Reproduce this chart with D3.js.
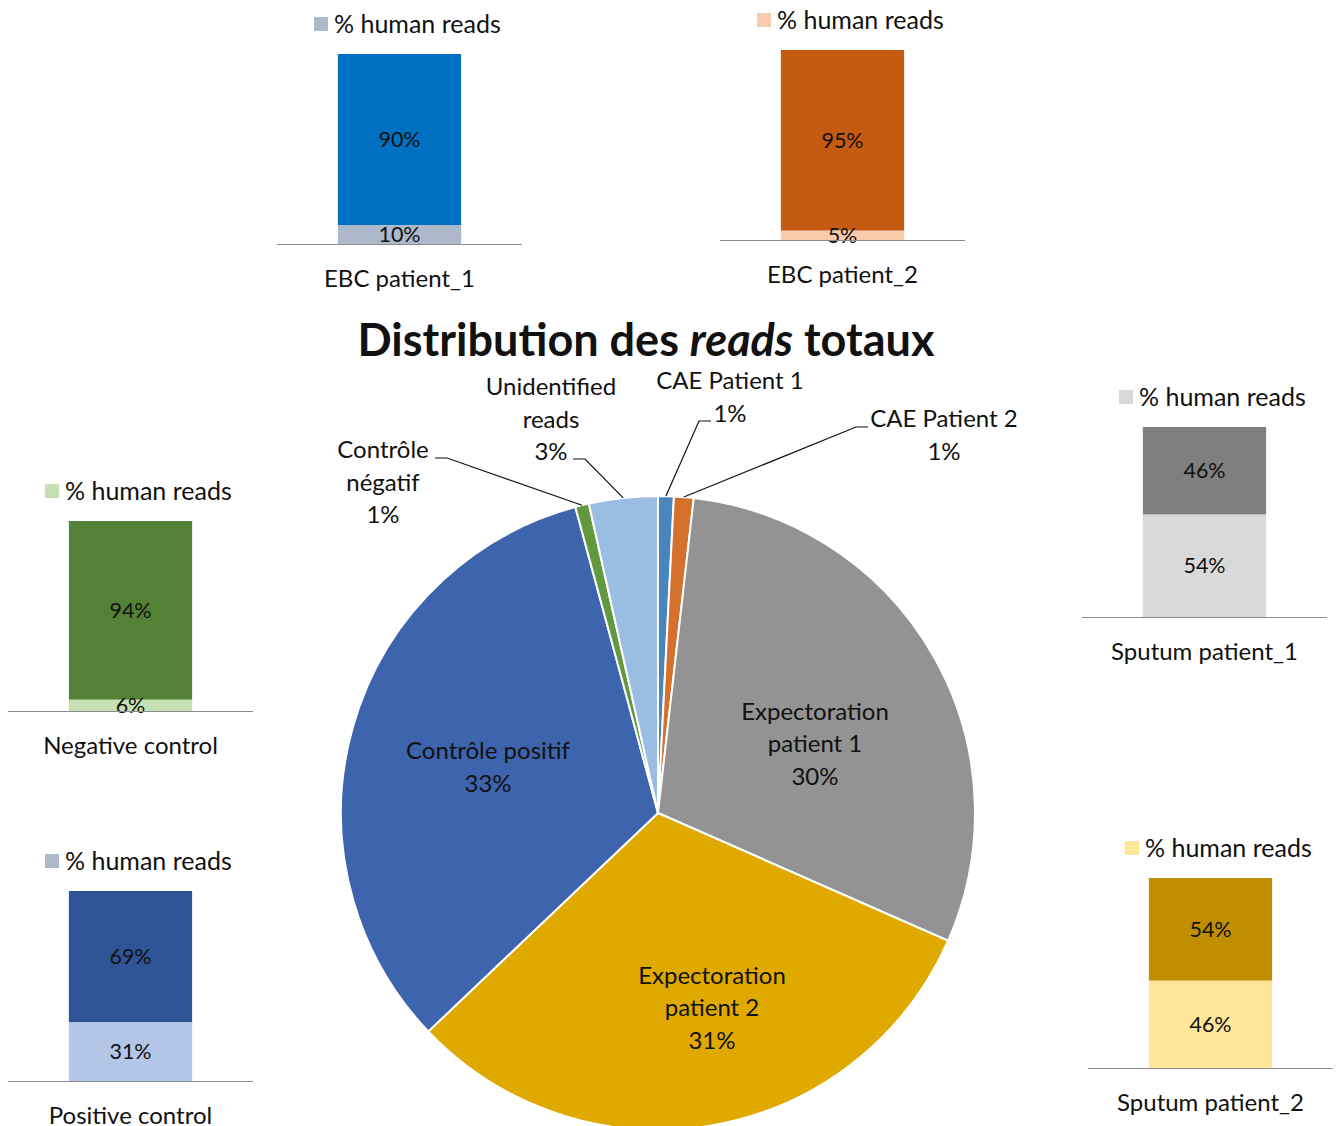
<!DOCTYPE html>
<html>
<head>
<meta charset="utf-8">
<script src="https://cdn.jsdelivr.net/npm/d3@7"></script>
<style>
  body { margin: 0; background: #fff; }
  svg text { font-family: Lato, "Open Sans", sans-serif; fill: #111; }
</style>
</head>
<body>
<div id="chart"></div>
<script>
// pie data (share of total reads)
var pieLabels = ["CAE Patient 1", "CAE Patient 2", "Expectoration patient 1", "Expectoration patient 2",
                 "Contrôle positif", "Contrôle négatif", "Unidentified reads"];
var pieValues = [0.8, 1.0, 29.8, 31.3, 32.9, 0.7, 3.5];
var pieColors = ["#4a86be", "#d5712c", "#939393", "#e0a900", "#3d64ad", "#62993e", "#9cbde2"];

// small stacked bars (% human reads vs rest)
var barNames = ["EBC patient_1", "EBC patient_2", "Negative control", "Positive control", "Sputum patient_1", "Sputum patient_2"];
var humanPct = [10, 5, 6, 31, 54, 46];
var otherPct = [90, 95, 94, 69, 46, 54];
var darkColors = ["#0070c0", "#c55a11", "#538135", "#2f5496", "#7f7f7f", "#bf8f00"];
var lightColors = ["#adb9ca", "#f8cbad", "#c5e0b3", "#b4c6e7", "#d9d9d9", "#ffe699"];
var legendColors = ["#adb9ca", "#f8cbad", "#c5e0b3", "#adb9ca", "#d9d9d9", "#ffe699"];

var W = 1338, H = 1126;
var svg = d3.select("#chart").append("svg").attr("width", W).attr("height", H);

// ---- bars ----
var panels = [ {x: 277, base: 244}, {x: 720, base: 240}, {x: 8, base: 711},
               {x: 8, base: 1081}, {x: 1082, base: 617}, {x: 1088, base: 1068} ];
var barH = 190, barW = 124, axisW = 245;

barNames.forEach(function(name, i) {
  var p = panels[i];
  var g = svg.append("g").attr("transform", "translate(" + p.x + "," + p.base + ")");
  var y = d3.scaleLinear().domain([0, 100]).range([0, -barH]);
  var x = d3.scaleBand().domain([name]).range([0, axisW]).paddingInner(0).paddingOuter((axisW - barW) / axisW);

  var segs = [
    {v0: 0, v1: humanPct[i], c: lightColors[i], t: humanPct[i] + "%"},
    {v0: humanPct[i], v1: humanPct[i] + otherPct[i], c: darkColors[i], t: otherPct[i] + "%"}
  ];
  g.selectAll("rect").data(segs).enter().append("rect")
    .attr("x", x(name)).attr("width", x.bandwidth())
    .attr("y", function(d) { return y(d.v1); })
    .attr("height", function(d) { return y(d.v0) - y(d.v1); })
    .attr("fill", function(d) { return d.c; });

  g.selectAll("text.val").data(segs).enter().append("text")
    .attr("class", "val")
    .attr("x", x(name) + x.bandwidth() / 2)
    .attr("y", function(d) { return (y(d.v0) + y(d.v1)) / 2; })
    .attr("dy", "0.35em")
    .attr("text-anchor", "middle")
    .style("font-size", "21.5px")
    .text(function(d) { return d.t; });

  g.append("line").attr("x1", 0).attr("x2", axisW).attr("y1", 0.5).attr("y2", 0.5)
    .attr("stroke", "#8c8c8c").attr("stroke-width", 1.2);

  g.append("text").attr("x", axisW / 2).attr("y", 35).attr("dy", "0.35em")
    .attr("text-anchor", "middle").style("font-size", "24px").text(name);

  // legend
  var ly = -barH - 30;
  g.append("rect").attr("x", 37).attr("y", ly - 7).attr("width", 14).attr("height", 14)
    .attr("fill", legendColors[i]);
  g.append("text").attr("x", 57).attr("y", ly).attr("dy", "0.35em")
    .style("font-size", "25px").text("% human reads");
});

// ---- title ----
var title = svg.append("text").attr("x", 646).attr("y", 340).attr("dy", "0.35em")
  .attr("text-anchor", "middle").style("font-size", "45px").style("font-weight", "bold");
title.append("tspan").text("Distribution des ");
title.append("tspan").style("font-style", "italic").text("reads");
title.append("tspan").text(" totaux");

// ---- pie ----
var cx = 658, cy = 813, R = 317;
var total = d3.sum(pieValues);
var pie = d3.pie().sort(null).value(function(d) { return d; })(pieValues);
var arc = d3.arc().innerRadius(0).outerRadius(R);
var pg = svg.append("g").attr("transform", "translate(" + cx + "," + cy + ")");

pg.selectAll("path").data(pie).enter().append("path")
  .attr("d", arc)
  .attr("fill", function(d, i) { return pieColors[i]; })
  .attr("stroke", "#fff").attr("stroke-width", 2);

function pct(i) { return Math.round(pieValues[i] / total * 100) + "%"; }

var lineGap = 32.5, labelSize = "24px";

// inside labels: centre of the text block
var inside = [
  {i: 2, lines: ["Expectoration", "patient 1"], x: 157, y: -69},
  {i: 3, lines: ["Expectoration", "patient 2"], x: 54, y: 195},
  {i: 4, lines: ["Contrôle positif"], x: -170, y: -46}
];
inside.forEach(function(o) {
  var lines = o.lines.concat([pct(o.i)]);
  var t = pg.append("text").attr("text-anchor", "middle").style("font-size", labelSize);
  lines.forEach(function(s, k) {
    t.append("tspan").attr("x", o.x).attr("y", o.y + (k - (lines.length - 1) / 2) * lineGap)
      .attr("dy", "0.35em").text(s);
  });
});

// outside labels with leader lines (y = first line)
var outside = [
  {i: 0, lines: ["CAE Patient 1"], x: 72, y: -432, lx: 53, ly: -392, dir: -1},
  {i: 1, lines: ["CAE Patient 2"], x: 286, y: -394, lx: 210, ly: -386, dir: -1},
  {i: 5, lines: ["Contrôle", "négatif"], x: -275, y: -363, lx: -223, ly: -355, dir: 1},
  {i: 6, lines: ["Unidentified", "reads"], x: -107, y: -426, lx: -85, ly: -354, dir: 1}
];
outside.forEach(function(o) {
  var lines = o.lines.concat([pct(o.i)]);
  var t = pg.append("text").attr("text-anchor", "middle").style("font-size", labelSize);
  lines.forEach(function(s, k) {
    t.append("tspan").attr("x", o.x).attr("y", o.y + k * lineGap).attr("dy", "0.35em").text(s);
  });
  var a = (pie[o.i].startAngle + pie[o.i].endAngle) / 2;
  var ex = Math.sin(a) * R, ey = -Math.cos(a) * R;
  var hx = o.lx + o.dir * 12;
  pg.append("polyline")
    .attr("points", [[o.lx, o.ly], [hx, o.ly], [ex, ey]].map(function(p) { return p.join(","); }).join(" "))
    .attr("fill", "none").attr("stroke", "#111").attr("stroke-width", 1.2);
});
</script>
</body>
</html>
